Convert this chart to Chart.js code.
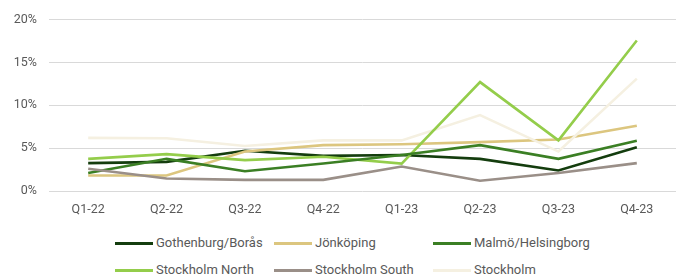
<!DOCTYPE html>
<html>
<head>
<meta charset="utf-8">
<script src="https://cdn.jsdelivr.net/npm/chart.js@4"></script>
<style>
  html, body { margin: 0; padding: 0; background: #ffffff; }
  #wrap { position: relative; width: 680px; height: 276px; overflow: hidden; }
  #c { position: absolute; left: 0; top: 0; }
  .lg { position: absolute; font-family: Roboto, sans-serif; font-size: 13px; color: #595959; line-height: 16px; white-space: nowrap; }
  .sw { position: absolute; width: 38px; height: 3px; }
</style>
</head>
<body>
<div id="wrap">
  <canvas id="c" width="680" height="230"></canvas>
  <div id="legend"></div>
</div>
<script>
const categories = ["Q1-22","Q2-22","Q3-22","Q4-22","Q1-23","Q2-23","Q3-23","Q4-23"];
const seriesNames = ["Gothenburg/Borås","Jönköping","Malmö/Helsingborg","Stockholm North","Stockholm South","Stockholm"];
const gothenburg = [3.25, 3.4, 4.7, 4.1, 4.2, 3.75, 2.4, 5.1];
const jonkoping  = [1.8, 1.8, 4.6, 5.35, 5.45, 5.7, 6.0, 7.6];
const malmo      = [2.1, 3.75, 2.3, 3.2, 4.2, 5.35, 3.75, 5.85];
const sthlmNorth = [3.75, 4.3, 3.6, 4.0, 3.2, 12.7, 5.9, 17.55];
const sthlmSouth = [2.6, 1.45, 1.3, 1.3, 2.85, 1.2, 2.1, 3.25];
const stockholm  = [6.2, 6.15, 5.25, 5.9, 5.9, 8.85, 4.6, 13.1];
const yTicks = [0, 5, 10, 15, 20];

const colors = ["#143d0e", "#dcc67f", "#3b7f24", "#94cd4b", "#9a8f88", "#f5f0e1"];
const values = [gothenburg, jonkoping, malmo, sthlmNorth, sthlmSouth, stockholm];
const order = [5, 4, 1, 2, 0, 3];

const datasets = seriesNames.map((n, i) => ({
  label: n,
  data: values[i],
  borderColor: colors[i],
  backgroundColor: colors[i],
  borderWidth: 2.6,
  pointRadius: 0,
  tension: 0,
  fill: false,
  order: order[i]
}));

new Chart(document.getElementById('c'), {
  type: 'line',
  data: { labels: categories, datasets },
  options: {
    responsive: false,
    animation: false,
    layout: { padding: { top: 9, right: 4, left: 0, bottom: 0 } },
    plugins: { legend: { display: false }, tooltip: { enabled: false } },
    scales: {
      x: {
        offset: true,
        grid: { display: false, offset: false, tickLength: 8 },
        border: { display: false },
        ticks: { color: '#595959', font: { family: 'Roboto', size: 12.5 }, padding: 3, maxRotation: 0 },
        afterFit: s => { s.height = 39; }
      },
      y: {
        min: 0, max: 20,
        afterBuildTicks: s => { s.ticks = yTicks.map(v => ({ value: v })); },
        grid: { color: '#d9d9d9', lineWidth: 1, drawTicks: false },
        border: { display: false },
        ticks: { color: '#595959', font: { family: 'Roboto', size: 12.5 }, padding: 12, callback: v => v + '%' },
        afterFit: s => { s.width = 49; }
      }
    }
  }
});

const legendPos = [
  { x: 115, y: 243 }, { x: 274, y: 243 }, { x: 433, y: 243 },
  { x: 115, y: 270 }, { x: 274, y: 270 }, { x: 433, y: 270 }
];
const lg = document.getElementById('legend');
seriesNames.forEach((n, i) => {
  const p = legendPos[i];
  const sw = document.createElement('div');
  sw.className = 'sw';
  sw.style.left = p.x + 'px';
  sw.style.top = (p.y - 1) + 'px';
  sw.style.background = colors[i];
  lg.appendChild(sw);
  const t = document.createElement('div');
  t.className = 'lg';
  t.style.left = (p.x + 41) + 'px';
  t.style.top = (p.y - 8) + 'px';
  t.textContent = n;
  lg.appendChild(t);
});
</script>
</body>
</html>
